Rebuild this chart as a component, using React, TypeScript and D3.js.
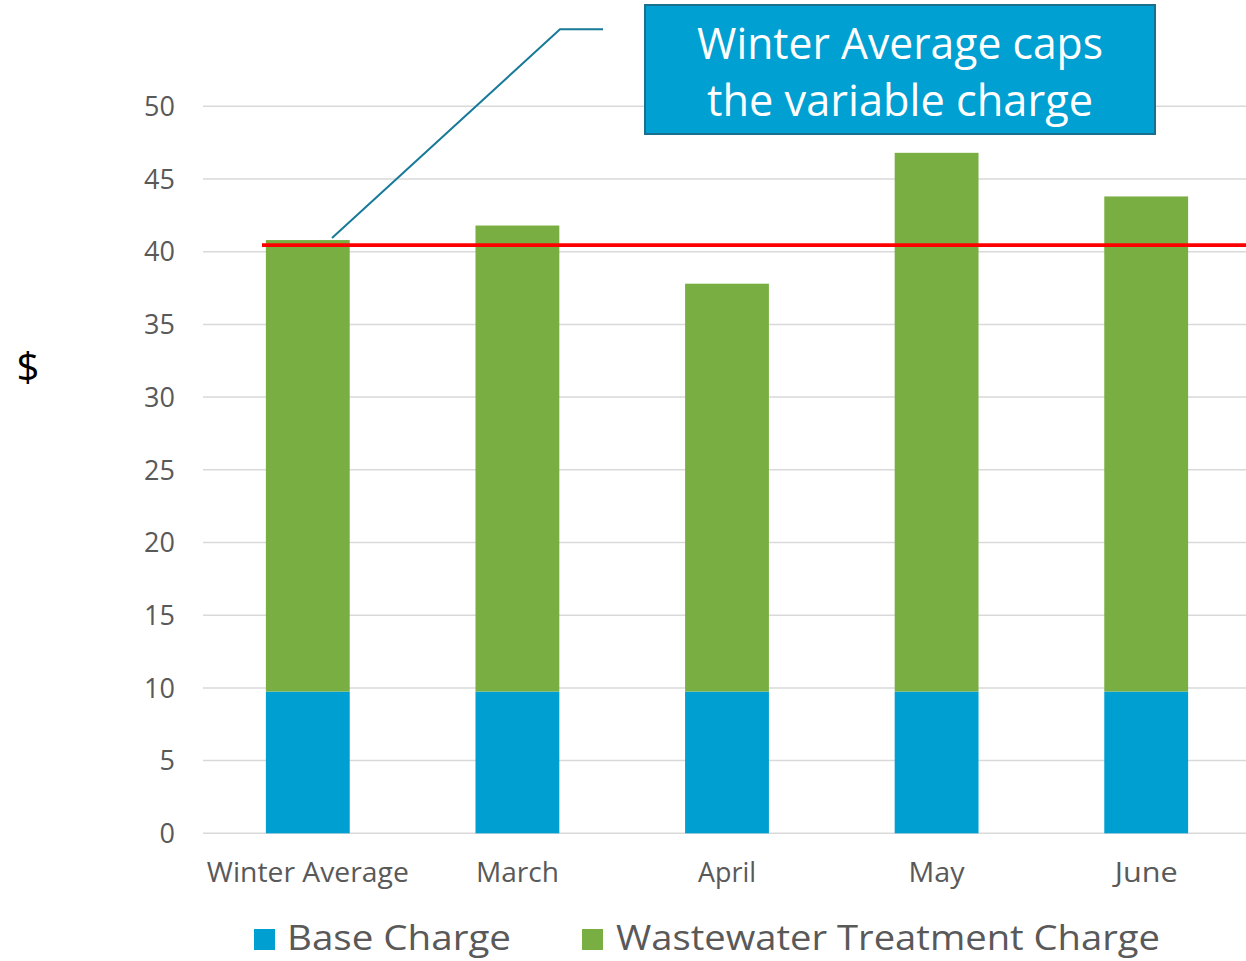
import React from "react";
import * as d3 from "d3";

const categories = ["Winter Average", "March", "April", "May", "June"];
const baseCharge = [9.75, 9.75, 9.75, 9.75, 9.75];
const treatmentCharge = [31.05, 32.05, 28.05, 37.05, 34.05];
const yTicks = [0, 5, 10, 15, 20, 25, 30, 35, 40, 45, 50];
const capValue = 40.45;
const seriesNames = ["Base Charge", "Wastewater Treatment Charge"];
const annotationLines = ["Winter Average caps", "the variable charge"];

const W = 1246;
const H = 961;
const BLUE = "#009FD1";
const GREEN = "#79AF42";
const FONT = "'Open Sans', 'Noto Sans', sans-serif";

export default function App() {
  const x = d3
    .scaleBand<string>()
    .domain(categories)
    .range([203, 1251])
    .paddingInner(0.6)
    .paddingOuter(0.3);
  const y = d3.scaleLinear().domain([0, 50]).range([833.3, 106.3]);

  const rows = categories.map((c, i) => ({
    cat: c,
    base: baseCharge[i],
    treat: treatmentCharge[i],
  }));
  const stack = d3.stack<any>().keys(["base", "treat"])(rows);
  const colors = [BLUE, GREEN];

  const catWidths: Record<string, number> = {
    "Winter Average": 202,
    March: 83,
    April: 58,
    May: 56,
    June: 63,
  };

  return (
    <svg
      width={W}
      height={H}
      style={{ position: "absolute", left: 0, top: 0, background: "#fff" }}
      fontFamily={FONT}
    >
      {/* gridlines */}
      {yTicks.map((t) => (
        <line
          key={t}
          x1={203}
          x2={W}
          y1={y(t)}
          y2={y(t)}
          stroke="#D9D9D9"
          strokeWidth={1.5}
        />
      ))}
      {/* y tick labels */}
      {yTicks.map((t) => (
        <text
          key={"l" + t}
          x={175}
          y={y(t)}
          dy="0.36em"
          textAnchor="end"
          fontSize={27}
          fill="#595959"
        >
          {t}
        </text>
      ))}
      {/* y title */}
      <text x={28} y={367} dy="0.36em" textAnchor="middle" fontSize={40} fill="#000">
        $
      </text>
      {/* bars */}
      {stack.map((s, si) =>
        s.map((d: any, i: number) => (
          <rect
            key={si + "-" + i}
            x={x(categories[i])}
            width={x.bandwidth()}
            y={y(d[1])}
            height={y(d[0]) - y(d[1])}
            fill={colors[si]}
          />
        ))
      )}
      {/* cap line */}
      <line
        x1={262}
        x2={W}
        y1={y(capValue)}
        y2={y(capValue)}
        stroke="#FF0000"
        strokeWidth={3.8}
      />
      {/* category labels */}
      {categories.map((c) => (
        <text
          key={"c" + c}
          x={(x(c) as number) + x.bandwidth() / 2}
          y={882}
          textAnchor="middle"
          fontSize={27}
          fill="#595959"
          textLength={catWidths[c]}
          lengthAdjust="spacingAndGlyphs"
        >
          {c}
        </text>
      ))}
      {/* legend */}
      <rect x={254} y={929} width={21} height={21} fill={BLUE} />
      <text
        x={287}
        y={950}
        fontSize={35}
        fill="#595959"
        textLength={224}
        lengthAdjust="spacingAndGlyphs"
      >
        {seriesNames[0]}
      </text>
      <rect x={582} y={929} width={21} height={21} fill={GREEN} />
      <text
        x={616}
        y={950}
        fontSize={35}
        fill="#595959"
        textLength={544}
        lengthAdjust="spacingAndGlyphs"
      >
        {seriesNames[1]}
      </text>
      {/* callout leader */}
      <polyline
        points={`332,238 560,29.3 603,29.3`}
        fill="none"
        stroke="#177A99"
        strokeWidth={2}
      />
      {/* annotation box */}
      <rect
        x={645}
        y={5}
        width={510}
        height={129}
        fill="#00A0D2"
        stroke="#1A6E8E"
        strokeWidth={2}
      />
      <text
        x={900}
        y={59}
        textAnchor="middle"
        fontSize={44}
        fill="#fff"
        textLength={406}
        lengthAdjust="spacingAndGlyphs"
      >
        {annotationLines[0]}
      </text>
      <text
        x={900}
        y={116}
        textAnchor="middle"
        fontSize={44}
        fill="#fff"
        textLength={386}
        lengthAdjust="spacingAndGlyphs"
      >
        {annotationLines[1]}
      </text>
    </svg>
  );
}
